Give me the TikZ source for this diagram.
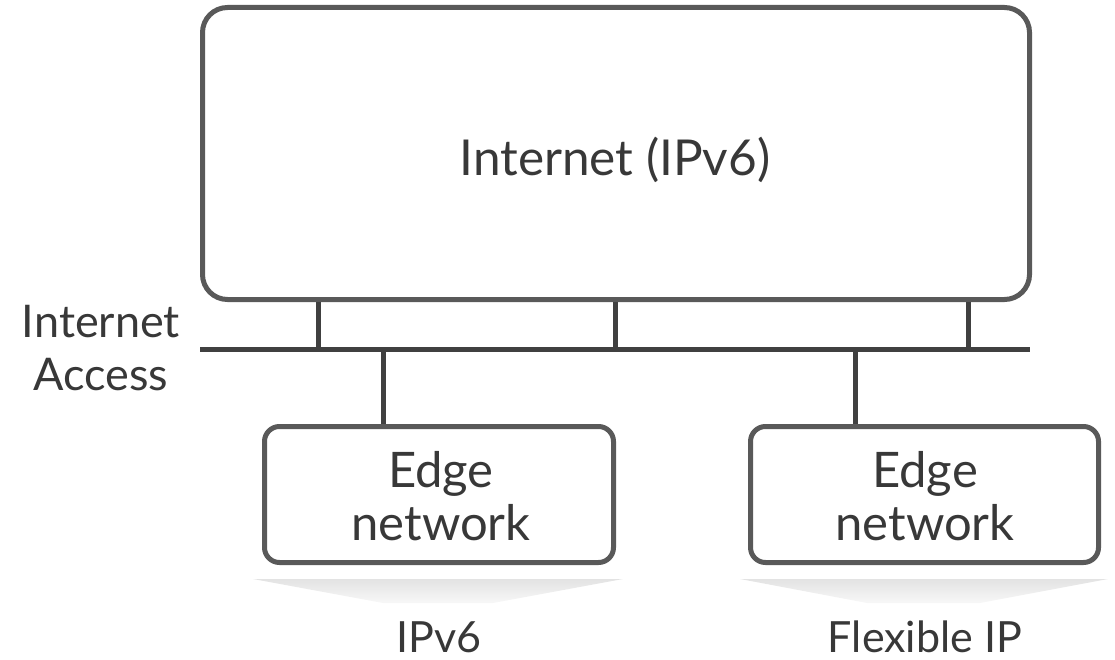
\documentclass[tikz,border=0pt]{standalone}
\usepackage{fontspec}
\setmainfont{Lato}
\definecolor{boxline}{HTML}{595959}
\definecolor{busline}{HTML}{404040}
\definecolor{txt}{HTML}{383838}
\tikzset{
  netbox/.style={draw=boxline, line width=5pt, rectangle, inner sep=0pt},
  bus/.style={draw=busline, line width=5pt},
  lbl/.style={text=txt, inner sep=0pt, align=center},
  bigtxt/.style={font=\fontsize{49.5}{53}\selectfont},
  edgetxt/.style={font=\fontsize{49}{53}\selectfont},
  midtxt/.style={font=\fontsize{45}{53}\selectfont},
  smalltxt/.style={font=\fontsize{43}{50}\selectfont},
  fan/.style={top color=black!11, bottom color=black!3, draw=none}
}
\begin{document}
\begin{tikzpicture}[x=1pt,y=-1pt]
\useasboundingbox (0,0) rectangle (1115,660);

% core network
\node[netbox, rounded corners=25pt, minimum width=827pt, minimum height=292pt] (inet) at (616,153.5) {};
\node[lbl, bigtxt, anchor=base] (inettxt) at (615,176) {Internet (IPv6)};

% access bus
\coordinate (busL) at (200,349);
\coordinate (busR) at (1030,349);
\draw[bus] (busL) -- (busR);
\coordinate (s1) at (318,349);
\coordinate (s2) at (615,349);
\coordinate (s3) at (968,349);
\draw[bus] (inet.south -| s1) -- (s1);
\draw[bus] (inet.south -| s2) -- (s2);
\draw[bus] (inet.south -| s3) -- (s3);
\node[lbl, midtxt, anchor=base] (acc) at (101,390) {Internet\\Access};

% edge networks
\node[netbox, rounded corners=15pt, minimum width=349pt, minimum height=136pt] (edgeL) at (439,494.5) {};
\node[netbox, rounded corners=15pt, minimum width=348pt, minimum height=136pt] (edgeR) at (924.5,494.5) {};
\node[lbl, edgetxt, anchor=base] (edgeLtxt) at (441,540) {Edge\\network};
\node[lbl, edgetxt, anchor=base] (edgeRtxt) at (925,540) {Edge\\network};
\coordinate (d1) at (383,349);
\coordinate (d2) at (855,349);
\draw[bus] (d1) -- (edgeL.north -| d1);
\draw[bus] (d2) -- (edgeR.north -| d2);

% protocol fans
\shade[fan] (253,579) -- (623,579) -- (493,603) -- (383,603) -- cycle;
\shade[fan] (740,579) -- (1108,579) -- (980,603) -- (867,603) -- cycle;
\node[lbl, smalltxt, anchor=base] (p1) at (439,652) {IPv6};
\node[lbl, smalltxt, anchor=base] (p2) at (925,652) {Flexible IP};
\end{tikzpicture}
\end{document}
